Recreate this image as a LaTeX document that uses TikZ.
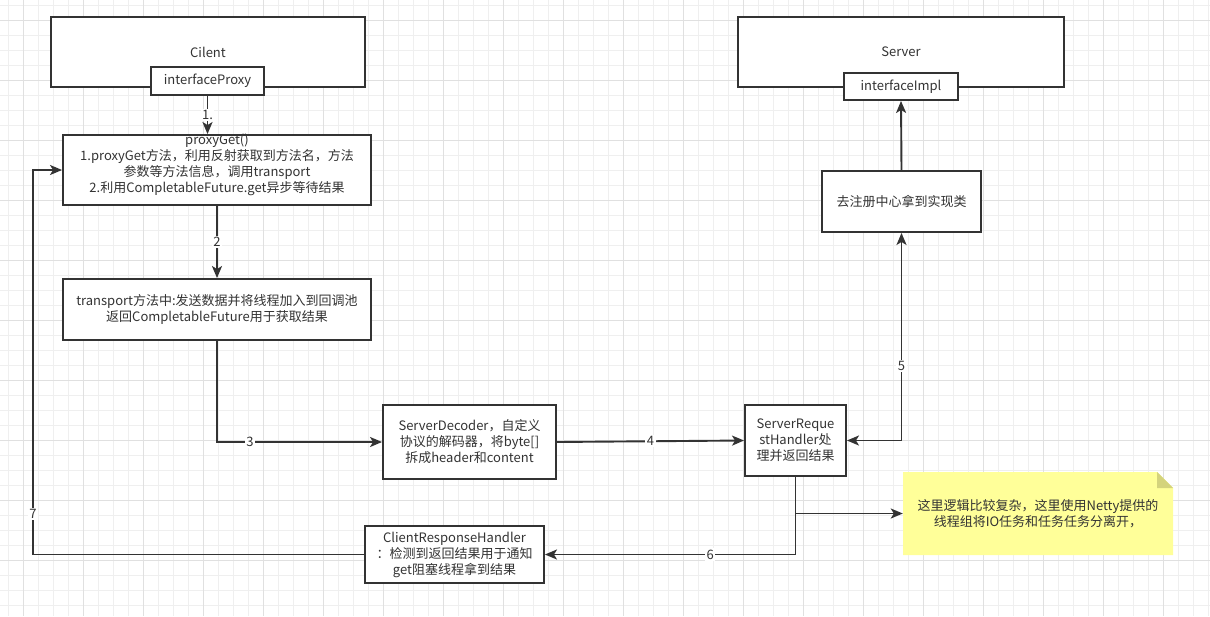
\documentclass[tikz,border=0pt]{standalone}
\usepackage{fontspec}
\setmainfont{Noto Sans CJK SC}
\usetikzlibrary{arrows.meta}
\definecolor{ink}{HTML}{333333}
\definecolor{gridminor}{HTML}{EFEFEF}
\definecolor{gridmajor}{HTML}{E0E0E0}
\definecolor{notefill}{HTML}{FFFF99}
\definecolor{notefold}{HTML}{D4D37C}
\begin{document}
\begin{tikzpicture}[x=1pt,y=-1pt,font=\fontsize{13}{16}\selectfont,
>={Stealth[length=12pt,width=10pt,inset=3pt]},
box/.style={draw=ink,line width=1.9pt,fill=white,text=ink,align=center,inner sep=1pt},
arr/.style={->,line width=1.9pt,color=ink},
lbl/.style={fill=white,text=ink,inner sep=1.5pt},
memo/.style={text=ink,align=center,inner sep=1pt,path picture={
  \fill[notefill] (path picture bounding box.south west) -- (path picture bounding box.north west)
    -- ([xshift=-16pt]path picture bounding box.north east) -- ([yshift=-16pt]path picture bounding box.north east)
    -- (path picture bounding box.south east) -- cycle;
  \fill[notefold] ([xshift=-16pt]path picture bounding box.north east) -- ([xshift=-16pt,yshift=-16pt]path picture bounding box.north east)
    -- ([yshift=-16pt]path picture bounding box.north east) -- cycle;}}]
\useasboundingbox (0,0) rectangle (1210,616);
\fill[white] (0,0) rectangle (1210,616);
% grid
\foreach \gx in {8.3,23.3,...,1210} \draw[gridminor,line width=0.8pt] (\gx,0) -- (\gx,616);
\foreach \gy in {5,20,...,616} \draw[gridminor,line width=0.8pt] (0,\gy) -- (1210,\gy);
\foreach \gx in {23.3,83.3,...,1210} \draw[gridmajor,line width=0.8pt] (\gx,0) -- (\gx,616);
\foreach \gy in {20,80,...,616} \draw[gridmajor,line width=0.8pt] (0,\gy) -- (1210,\gy);
% client side
\node[box,minimum width=314pt,minimum height=70pt] (client) at (208,52) {Cilent};
\node[box,minimum width=113pt,minimum height=28pt] (proxy) at (207.5,81) {interfaceProxy};
\node[box,minimum width=308pt,minimum height=70pt] (get) at (217,170) {};
\node[text=ink,align=center,inner sep=0pt] (gettxt) at (217,164.5) {proxyGet()\\1.proxyGet方法，利用反射获取到方法名，方法\\参数等方法信息，调用transport\\2.利用CompletableFuture.get异步等待结果};
\node[box,minimum width=308pt,minimum height=61pt] (trans) at (217,309.5) {transport方法中:发送数据并将线程加入到回调池\\返回CompletableFuture用于获取结果};
\node[box,minimum width=173pt,minimum height=74pt] (dec) at (469.5,442) {ServerDecoder，自定义\\协议的解码器，将byte[]\\拆成header和content};
\node[box,minimum width=179pt,minimum height=57pt] (crh) at (454.5,554.5) {ClientResponseHandler\\：检测到返回结果用于通知\\get阻塞线程拿到结果};
% server side
\node[box,minimum width=326pt,minimum height=70pt] (server) at (901,52) {Server};
\node[box,minimum width=114pt,minimum height=27pt] (impl) at (901,86.5) {interfaceImpl};
\node[box,minimum width=159pt,minimum height=61pt] (reg) at (901.5,201.5) {去注册中心拿到实现类};
\node[box,minimum width=101pt,minimum height=71pt] (handler) at (795.5,440.5) {ServerReque\\stHandler处\\理并返回结果};
\node[memo,minimum width=270pt,minimum height=83pt] (note) at (1038,513.5) {这里逻辑比较复杂，这里使用Netty提供的\\线程组将IO任务和任务任务分离开，};
% connectors
\coordinate (fork) at (handler.south |- note.west);
\coordinate (back) at (33,170);
\draw[arr] (proxy.south) -- node[lbl]{1.} (proxy.south |- get.north);
\draw[arr] (get.south) -- node[lbl]{2} (trans.north);
\draw[arr] (trans.south) |- node[lbl,pos=0.6]{3} (dec.west);
\draw[arr] (dec.east) -- node[lbl]{4} (handler.west);
\draw[arr,<->] (handler.east) -| node[lbl,pos=0.68]{5} (reg.south);
\draw[arr] (reg.north) -- (impl.south);
\draw[arr] (handler.south) |- node[lbl,pos=0.67]{6} (crh.east);
\draw[arr] (fork) -- (note.west);
\draw[arr] (crh.west) -| node[lbl,pos=0.553]{7} (back) -- (get.west);
\end{tikzpicture}
\end{document}
